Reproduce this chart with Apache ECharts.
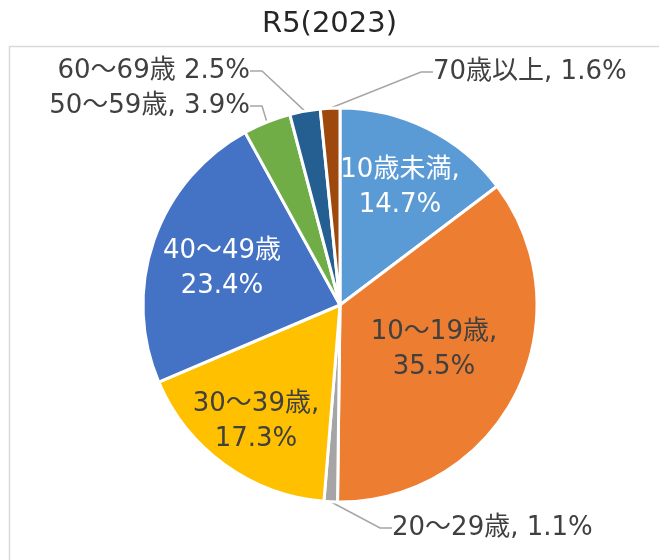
<!DOCTYPE html>
<html>
<head>
<meta charset="utf-8">
<script src="https://cdn.jsdelivr.net/npm/echarts@6/dist/echarts.min.js"></script>
<style>
  html, body { margin: 0; padding: 0; background: #fff; }
  #chart { width: 659px; height: 560px; }
</style>
</head>
<body>
<div id="chart"></div>
<script>
// 年齢区分
const categories = ['10歳未満', '10～19歳', '20～29歳', '30～39歳', '40～49歳', '50～59歳', '60～69歳', '70歳以上']
// 構成比（%）
const shares = [14.7, 35.5, 1.1, 17.3, 23.4, 3.9, 2.5, 1.6]
// ラベルの区切り（元図のまま）
const separators = [',\n', ',\n', ', ', ',\n', '\n', ', ', ' ', ', ']

// 色・ラベル配置
const sliceColors = ['#5B9BD5', '#ED7D31', '#A5A5A5', '#FFC000', '#4472C4', '#70AD47', '#255E91', '#9E480E']
const insideLabel = [true, true, false, true, true, false, false, false]
const labelColors = ['#ffffff', '#404040', '#404040', '#404040', '#ffffff', '#404040', '#404040', '#404040']
const labelSpots = [
  [400, 188, 'center'], [434, 350, 'center'], [392, 528, 'left'], [256, 422, 'center'],
  [222, 269, 'center'], [250, 106, 'right'], [250, 71, 'right'], [433, 72, 'left']
]

const fontFamily = "'DejaVu Sans', 'Noto Sans CJK JP', sans-serif"

const chart = echarts.init(document.getElementById('chart'))

const pieData = categories.map((name, i) => ({
  name: name,
  value: shares[i],
  itemStyle: { color: sliceColors[i] },
  label: {
    position: insideLabel[i] ? 'inside' : 'outside',
    color: labelColors[i]
  },
  labelLine: { show: !insideLabel[i] }
}))

const option = {
  backgroundColor: '#ffffff',
  animation: false,
  title: {
    text: 'R5(2023)',
    left: 'center',
    top: 5,
    textStyle: {
      fontFamily: fontFamily,
      fontSize: 29,
      fontWeight: 'normal',
      color: '#262626'
    }
  },
  graphic: [
    {
      type: 'rect',
      left: 7,
      top: 44,
      shape: { width: 700, height: 600 },
      style: { fill: 'none', stroke: '#D9D9D9', lineWidth: 1.5 },
      silent: true
    }
  ],
  series: [
    {
      type: 'pie',
      center: [340, 305],
      radius: [0, 197],
      startAngle: 90,
      clockwise: true,
      avoidLabelOverlap: false,
      itemStyle: {
        borderColor: '#ffffff',
        borderWidth: 3
      },
      label: {
        fontFamily: fontFamily,
        fontSize: 26,
        lineHeight: 35,
        formatter: p => p.name + separators[p.dataIndex] + p.value.toFixed(1) + '%'
      },
      labelLine: {
        length: 20,
        length2: 12,
        lineStyle: { color: '#A6A6A6', width: 1.5 }
      },
      labelLayout: p => {
        const s = labelSpots[p.dataIndex]
        return { x: s[0], y: s[1], align: s[2], verticalAlign: 'middle' }
      },
      data: pieData
    }
  ]
}

chart.setOption(option)
window.addEventListener('resize', () => chart.resize())
</script>
</body>
</html>
